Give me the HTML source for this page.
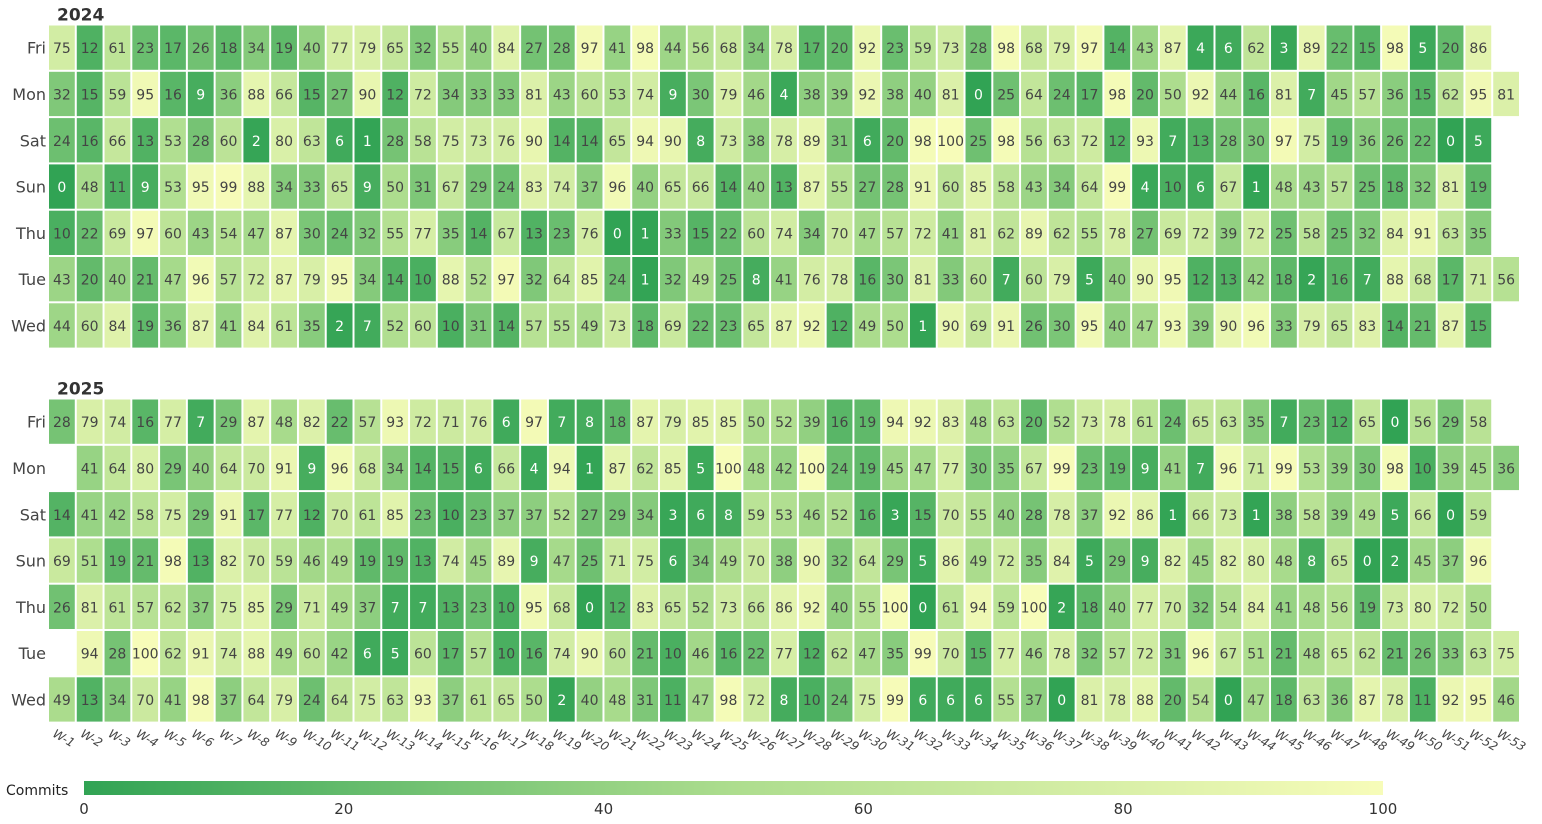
<!DOCTYPE html>
<html><head><meta charset="utf-8"><style>
body{margin:0;background:#fff;width:1542px;height:820px;overflow:hidden;font-family:"DejaVu Sans","Liberation Sans",sans-serif;}
svg text{font-family:"DejaVu Sans","Liberation Sans",sans-serif;}
</style></head><body>
<svg id="chart" width="1542" height="820" xmlns="http://www.w3.org/2000/svg">
<defs><linearGradient id="cg" x1="0" x2="1" y1="0" y2="0">
<stop offset="0" stop-color="#31a354"/><stop offset="0.5" stop-color="#addd8e"/><stop offset="1" stop-color="#f7fcb9"/></linearGradient></defs>
</svg>
<script>
const days = ["Fri","Mon","Sat","Sun","Thu","Tue","Wed"];
const years = ["2024","2025"];
const weekLabels = Array.from({length:53},(_, i)=>"W-"+(i+1));
const colorTicks = [0,20,40,60,80,100];
const data2024Fri = [75,12,61,23,17,26,18,34,19,40,77,79,65,32,55,40,84,27,28,97,41,98,44,56,68,34,78,17,20,92,23,59,73,28,98,68,79,97,14,43,87,4,6,62,3,89,22,15,98,5,20,86,null];
const data2024Mon = [32,15,59,95,16,9,36,88,66,15,27,90,12,72,34,33,33,81,43,60,53,74,9,30,79,46,4,38,39,92,38,40,81,0,25,64,24,17,98,20,50,92,44,16,81,7,45,57,36,15,62,95,81];
const data2024Sat = [24,16,66,13,53,28,60,2,80,63,6,1,28,58,75,73,76,90,14,14,65,94,90,8,73,38,78,89,31,6,20,98,100,25,98,56,63,72,12,93,7,13,28,30,97,75,19,36,26,22,0,5,null];
const data2024Sun = [0,48,11,9,53,95,99,88,34,33,65,9,50,31,67,29,24,83,74,37,96,40,65,66,14,40,13,87,55,27,28,91,60,85,58,43,34,64,99,4,10,6,67,1,48,43,57,25,18,32,81,19,null];
const data2024Thu = [10,22,69,97,60,43,54,47,87,30,24,32,55,77,35,14,67,13,23,76,0,1,33,15,22,60,74,34,70,47,57,72,41,81,62,89,62,55,78,27,69,72,39,72,25,58,25,32,84,91,63,35,null];
const data2024Tue = [43,20,40,21,47,96,57,72,87,79,95,34,14,10,88,52,97,32,64,85,24,1,32,49,25,8,41,76,78,16,30,81,33,60,7,60,79,5,40,90,95,12,13,42,18,2,16,7,88,68,17,71,56];
const data2024Wed = [44,60,84,19,36,87,41,84,61,35,2,7,52,60,10,31,14,57,55,49,73,18,69,22,23,65,87,92,12,49,50,1,90,69,91,26,30,95,40,47,93,39,90,96,33,79,65,83,14,21,87,15,null];
const data2025Fri = [28,79,74,16,77,7,29,87,48,82,22,57,93,72,71,76,6,97,7,8,18,87,79,85,85,50,52,39,16,19,94,92,83,48,63,20,52,73,78,61,24,65,63,35,7,23,12,65,0,56,29,58,null];
const data2025Mon = [null,41,64,80,29,40,64,70,91,9,96,68,34,14,15,6,66,4,94,1,87,62,85,5,100,48,42,100,24,19,45,47,77,30,35,67,99,23,19,9,41,7,96,71,99,53,39,30,98,10,39,45,36];
const data2025Sat = [14,41,42,58,75,29,91,17,77,12,70,61,85,23,10,23,37,37,52,27,29,34,3,6,8,59,53,46,52,16,3,15,70,55,40,28,78,37,92,86,1,66,73,1,38,58,39,49,5,66,0,59,null];
const data2025Sun = [69,51,19,21,98,13,82,70,59,46,49,19,19,13,74,45,89,9,47,25,71,75,6,34,49,70,38,90,32,64,29,5,86,49,72,35,84,5,29,9,82,45,82,80,48,8,65,0,2,45,37,96,null];
const data2025Thu = [26,81,61,57,62,37,75,85,29,71,49,37,7,7,13,23,10,95,68,0,12,83,65,52,73,66,86,92,40,55,100,0,61,94,59,100,2,18,40,77,70,32,54,84,41,48,56,19,73,80,72,50,null];
const data2025Tue = [null,94,28,100,62,91,74,88,49,60,42,6,5,60,17,57,10,16,74,90,60,21,10,46,16,22,77,12,62,47,35,99,70,15,77,46,78,32,57,72,31,96,67,51,21,48,65,62,21,26,33,63,75];
const data2025Wed = [49,13,34,70,41,98,37,64,79,24,64,75,63,93,37,61,65,50,2,40,48,31,11,47,98,72,8,10,24,75,99,6,6,6,55,37,0,81,78,88,20,54,0,47,18,63,36,87,78,11,92,95,46];

const grids = {
 "2024":[data2024Fri,data2024Mon,data2024Sat,data2024Sun,data2024Thu,data2024Tue,data2024Wed],
 "2025":[data2025Fri,data2025Mon,data2025Sat,data2025Sun,data2025Thu,data2025Tue,data2025Wed]
};
const NS="http://www.w3.org/2000/svg";
const svg=document.getElementById('chart');
function mk(tag,attrs,parent){const e=document.createElementNS(NS,tag);for(const k in attrs)e.setAttribute(k,attrs[k]);(parent||svg).appendChild(e);return e;}
const x0=48, cw=(1520-48)/53, rh=46.3;
const panelTop={"2024":24.5,"2025":398.5};
const xScale=i=>x0+i*cw;
const yScale=(yr,r)=>panelTop[yr]+r*rh;
const stops=[[0,[49,163,84]],[50,[173,221,142]],[100,[247,252,185]]];
function color(v){let a=stops[0],b=stops[1];if(v>50){a=stops[1];b=stops[2];}
 const t=(v-a[0])/(b[0]-a[0]);const c=a[1].map((x,k)=>Math.round(x+(b[1][k]-x)*t));return `rgb(${c})`;}
years.forEach(yr=>{
 const g=mk('g',{});
 
 
 const t=mk('text',{x:57,y:panelTop[yr]-4,'font-size':17,'font-weight':'bold',fill:'#333'},g);t.textContent=yr;
 
 
 days.forEach((d,r)=>{
  const y=yScale(yr,r);
  const lab=mk('text',{x:46,y:y+rh/2+6,'text-anchor':'end','font-size':16,fill:'#444'},g);lab.textContent=d;
  
  
  grids[yr][r].forEach((v,i)=>{
   if(v===null)return;
   const x=xScale(i);
   const rc=mk('rect',{x:x+1,y:y+1,width:cw-2,height:rh-2,fill:color(v)},g);
   
   
   const tx=mk('text',{x:x+cw/2,y:y+rh/2+5.5,'text-anchor':'middle','font-size':14,fill:v<10?'#fff':'#444'},g);tx.textContent=v;
   
   
  });
 });
});
weekLabels.forEach((w,i)=>{
 const x=xScale(i)+cw/2-10, y=736;
 const t=mk('text',{x:x,y:y,'font-size':12,fill:'#444','font-style':'italic',transform:`rotate(30 ${x} ${y})`});t.textContent=w;
 
 
});
const ct=mk('text',{x:6,y:795,'font-size':14,fill:'#222'});ct.textContent="Commits";


const cb=mk('rect',{x:84,y:781,width:1299,height:14,fill:'url(#cg)'});


colorTicks.forEach(v=>{
 const t=mk('text',{x:84+v/100*1299,y:814,'text-anchor':'middle','font-size':15,fill:'#333'});t.textContent=v;
 
 
});
</script>
</body></html>
